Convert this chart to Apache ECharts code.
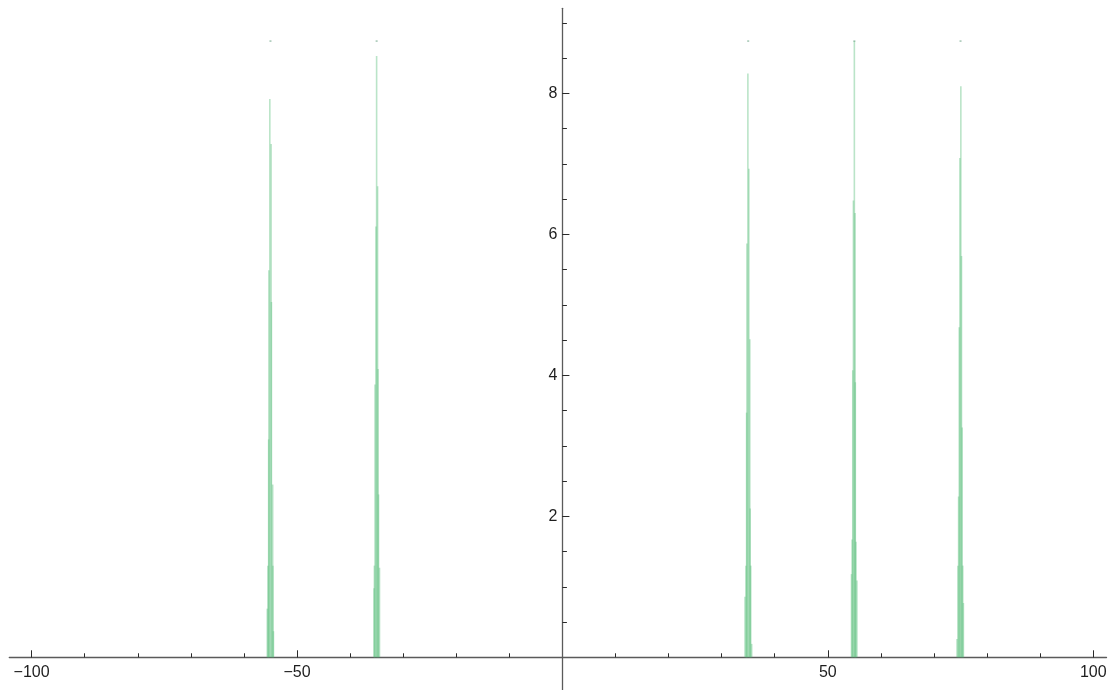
<!DOCTYPE html>
<html><head><meta charset="utf-8">
<script src="https://cdn.jsdelivr.net/npm/echarts@6/dist/echarts.min.js"></script>
<style>html,body{margin:0;padding:0;background:#fff}#c{width:1112px;height:690px}</style>
</head><body><div id="c"></div>
<script>
// ---- data ----
const xMajorTicks = [-100, -50, 50, 100];
const xMinorTicks = [-100, -90, -80, -70, -60, -50, -40, -30, -20, -10, 10, 20, 30, 40, 50, 60, 70, 80, 90, 100];
const yMajorTicks = [2, 4, 6, 8];
const yMinorTicks = [0.5, 1, 1.5, 2, 2.5, 3, 3.5, 4, 4.5, 5, 5.5, 6, 6.5, 7, 7.5, 8, 8.5, 9];
const spikeCenters = [-55, -35, 35, 55, 75];
// each entry: [x offset from spike centre, height]
const spikeAtM55 = [[-0.12, 7.92], [0.12, 7.28], [-0.30, 5.49], [0.18, 5.04], [-0.34, 3.09], [0.42, 2.45], [-0.48, 1.30], [0.46, 1.30], [-0.60, 0.69], [0.56, 0.37]];
const spikeAtM35 = [[0.00, 8.53], [0.18, 6.68], [-0.12, 6.11], [0.26, 4.09], [-0.30, 3.87], [0.36, 2.31], [-0.42, 1.30], [0.54, 1.27], [-0.48, 0.98]];
const spikeAt35 = [[-0.06, 8.28], [0.12, 6.93], [-0.24, 5.87], [0.30, 4.51], [-0.30, 3.47], [0.36, 2.11], [-0.42, 1.30], [0.48, 1.30], [-0.60, 0.86], [0.66, 0.19]];
const spikeAt55 = [[0.00, 8.74], [-0.18, 6.48], [0.12, 6.30], [-0.30, 4.07], [0.18, 3.90], [-0.42, 1.67], [0.30, 1.64], [-0.54, 1.18], [0.48, 1.09]];
const spikeAt75 = [[0.06, 8.10], [-0.12, 7.08], [0.18, 5.69], [-0.24, 4.68], [0.30, 3.26], [-0.36, 2.28], [-0.48, 1.30], [0.42, 1.30], [0.54, 0.77], [-0.66, 0.26]];
const spikeShapes = [spikeAtM55, spikeAtM35, spikeAt35, spikeAt55, spikeAt75];
const capCenters = [-55, -35, 35, 55, 75];
const capHeight = 8.74;

// ---- build ----
const barData = [];
spikeShapes.forEach((shape, i) => {
  shape.forEach(p => barData.push([spikeCenters[i] + p[0], p[1]]));
});
const capData = capCenters.map(c => [c, capHeight]);

const FONT = 'Liberation Sans, Arial, sans-serif';
const fmt = v => String(v).replace('-', '\u2212');
const AX = '#5a5a5a', TK = '#2a2a2a';
const X_MIN = -104.2, X_MAX = 102.5, Y_MIN = -0.464, Y_MAX = 9.205;
const W = 1112, H = 690;
const G = {left: 9.3, right: 5.5, top: 8.3, bottom: 0};
const gridW = W - G.left - G.right, gridH = H - G.top - G.bottom;
// shift the axes so they cross at the origin
const yAxisOffset = -((0 - X_MIN) / (X_MAX - X_MIN)) * gridW;
const xAxisOffset = -((0 - Y_MIN) / (Y_MAX - Y_MIN)) * gridH;

function xAxisDef(ticks, len, labels, lineColor) {
  return {type: 'value', min: X_MIN, max: X_MAX, position: 'bottom', offset: xAxisOffset,
    axisLine: {show: true, onZero: false, lineStyle: {color: lineColor, width: 1.3}},
    axisTick: {show: true, inside: true, length: len, customValues: ticks, lineStyle: {color: TK, width: 1}},
    axisLabel: labels ? {show: true, customValues: ticks, formatter: fmt, margin: 7, fontSize: 16, color: '#1e1e1e', fontFamily: FONT} : {show: false},
    splitLine: {show: false}};
}
function yAxisDef(ticks, len, labels, lineColor) {
  return {type: 'value', min: Y_MIN, max: Y_MAX, position: 'left', offset: yAxisOffset,
    axisLine: {show: true, onZero: false, lineStyle: {color: lineColor, width: 1.3}},
    axisTick: {show: true, inside: true, length: len, customValues: ticks, lineStyle: {color: TK, width: 1}},
    axisLabel: labels ? {show: true, customValues: ticks, formatter: fmt, margin: 5, fontSize: 16, color: '#1e1e1e', fontFamily: FONT} : {show: false},
    splitLine: {show: false}};
}

const chart = echarts.init(document.getElementById('c'), null, {renderer: 'canvas'});
chart.setOption({
  animation: false,
  backgroundColor: '#fff',
  grid: {left: G.left, right: G.right, top: G.top, bottom: G.bottom, containLabel: false, outerBoundsMode: 'none'},
  xAxis: [xAxisDef(xMajorTicks, 7, true, AX), xAxisDef(xMinorTicks, 4, false, 'rgba(0,0,0,0)')],
  yAxis: [yAxisDef(yMajorTicks, 7, true, AX), yAxisDef(yMinorTicks, 4.5, false, 'rgba(0,0,0,0)')],
  series: [
    {type: 'bar', xAxisIndex: 0, yAxisIndex: 0, data: barData, barWidth: 1.6,
     itemStyle: {color: 'rgba(90,190,125,0.42)'}, silent: true},
    {type: 'scatter', xAxisIndex: 0, yAxisIndex: 0, data: capData, symbol: 'rect', symbolSize: [2, 1.5],
     itemStyle: {color: 'rgba(110,165,135,0.8)'}, silent: true}
  ]
});
</script></body></html>
